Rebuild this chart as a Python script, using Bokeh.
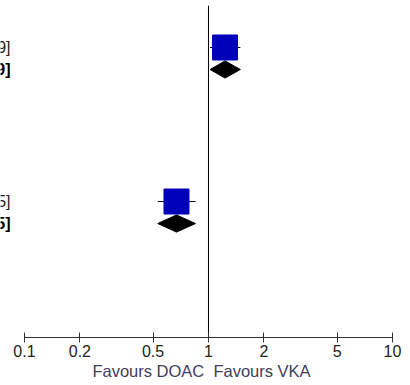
from bokeh.plotting import figure
from bokeh.models import Range1d, FixedTicker, ColumnDataSource
from bokeh.core.properties import value
from bokeh.embed import file_html
from bokeh.resources import INLINE

# ---- data ----
study_est = [1.23, 0.67]
study_lo = [1.02, 0.53]
study_hi = [1.49, 0.85]
study_text = ["1.23 [1.02, 1.49]", "0.67 [0.53, 0.85]"]

total_est = [1.23, 0.67]
total_lo = [1.02, 0.53]
total_hi = [1.49, 0.85]
total_text = ["1.23 [1.02, 1.49]", "0.67 [0.53, 0.85]"]

tick_values = [0.1, 0.2, 0.5, 1, 2, 5, 10]
tick_labels = ["0.1", "0.2", "0.5", "1", "2", "5", "10"]
left_label = "Favours DOAC"
right_label = "Favours VKA"

# ---- layout (row index from the top) ----
study_rows = [2, 9]
total_rows = [3, 10]
FONT = "Liberation Sans"

p = figure(width=410, height=385, x_axis_type="log",
           x_range=Range1d(0.07408, 11.33), y_range=Range1d(15.18, -0.136),
           output_backend="svg", toolbar_location=None, y_axis_location=None,
           min_border_left=0, min_border_right=8, min_border_top=0,
           min_border_bottom=48)
p.grid.visible = False
p.outline_line_color = None
p.background_fill_color = "white"
p.border_fill_color = "white"

# reference line at 1
p.segment(x0=[1], y0=[0.1], x1=[1], y1=[15.18], line_color="black", line_width=1)

# study CIs and squares
ssrc = ColumnDataSource(dict(est=study_est, lo=study_lo, hi=study_hi, row=study_rows, text=study_text,
                             lx=[tick_values[0]] * len(study_est)))
p.segment(x0="lo", y0="row", x1="hi", y1="row", source=ssrc, line_color="black", line_width=1)
p.scatter(x="est", y="row", source=ssrc, marker="square", size=25,
          fill_color="#0000BB", line_color="#0000BB")

# totals: diamonds
h = 0.39
xs = [[lo, e, hi, e] for lo, e, hi in zip(total_lo, total_est, total_hi)]
ys = [[r, r - h, r, r + h] for r in total_rows]
p.patches(xs=xs, ys=ys, fill_color="black", line_color="black")

tsrc = ColumnDataSource(dict(row=total_rows, text=total_text, lx=[tick_values[0]] * len(total_est)))

# left-hand numeric texts (mostly cut off by the window edge)
p.text(x="lx", y="row", text="text", source=ssrc, x_offset=-14, text_align="right",
       text_baseline="middle", text_font=value(FONT), text_font_size="16px", text_color="#222222")
p.text(x="lx", y="row", text="text", source=tsrc, x_offset=-14, text_align="right",
       text_baseline="middle", text_font=value(FONT), text_font_size="16px",
       text_font_style="bold", text_color="black")

# x axis
ax = p.xaxis[0]
ax.ticker = FixedTicker(ticks=tick_values, minor_ticks=[])
ax.major_label_overrides = {v: t for v, t in zip(tick_values, tick_labels)}
ax.bounds = (tick_values[0], tick_values[-1])
ax.axis_line_color = "#333333"
ax.major_tick_line_color = "#333333"
ax.major_tick_in = 5
ax.major_tick_out = 5
ax.minor_tick_line_color = None
ax.major_label_standoff = 2
ax.major_label_text_font = FONT
ax.major_label_text_font_size = "16px"
ax.major_label_text_color = "#222222"

ax.axis_label = left_label + "\u00a0\u00a0" + right_label
ax.axis_label_standoff = 2
ax.axis_label_text_font = FONT
ax.axis_label_text_font_size = "16.5px"
ax.axis_label_text_font_style = "normal"
ax.axis_label_text_color = "#404060"

open("out.html", "w").write(file_html(p, INLINE))
